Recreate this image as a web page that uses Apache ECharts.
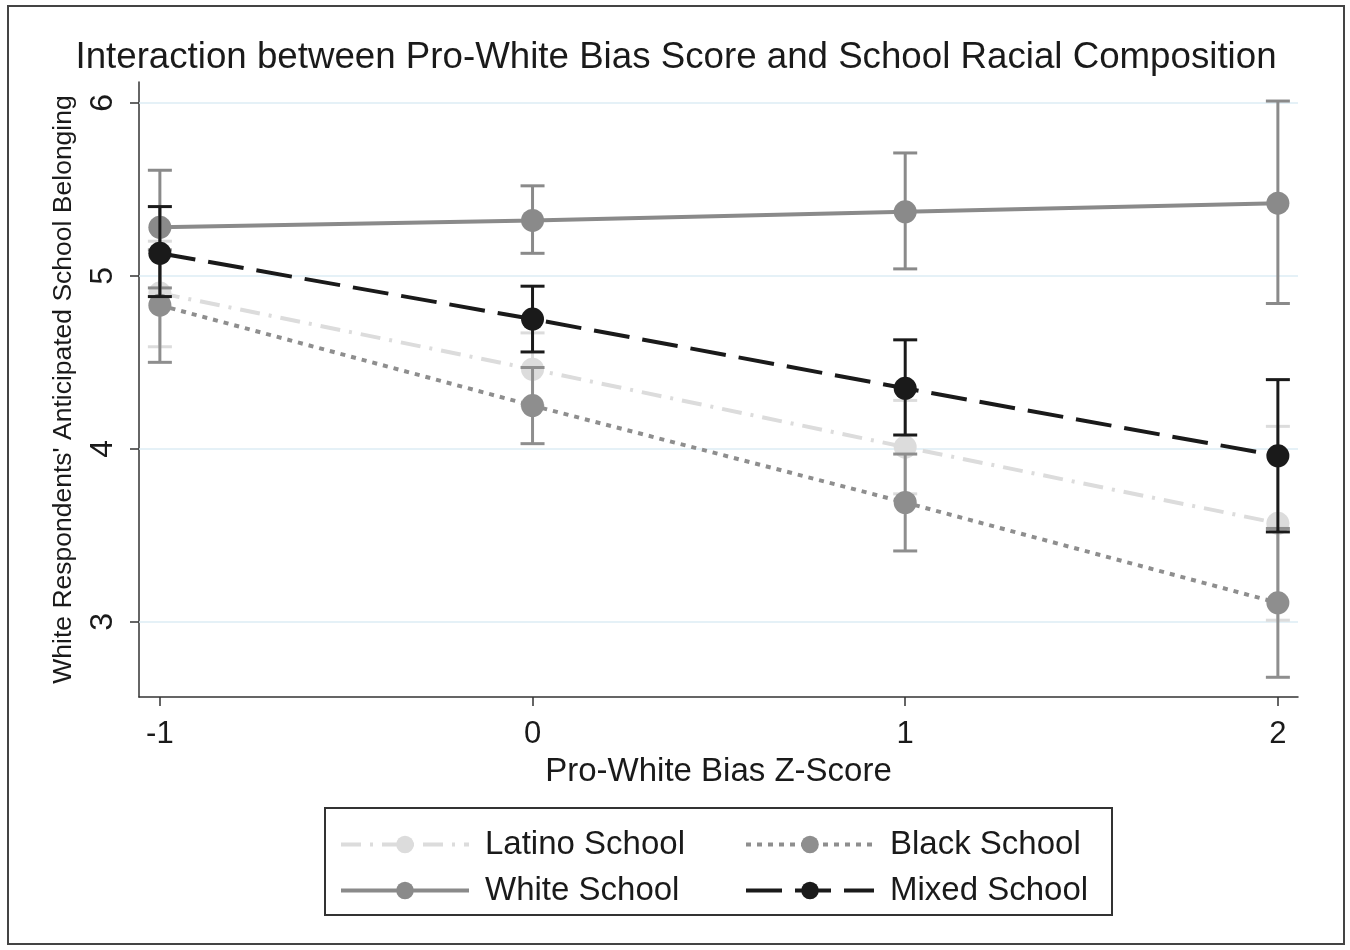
<!DOCTYPE html>
<html>
<head>
<meta charset="utf-8">
<script src="https://cdn.jsdelivr.net/npm/echarts@6/dist/echarts.min.js"></script>
<style>html,body{margin:0;padding:0;background:#fff;}#c{width:1350px;height:950px;}</style>
</head>
<body>
<div id="c"></div>
<script>
const xValues = [-1, 0, 1, 2];
const xTicks = [-1, 0, 1, 2];
const yTicks = [3, 4, 5, 6];

const latinoMean = [4.90, 4.46, 4.01, 3.57];
const latinoLow  = [4.59, 4.25, 3.74, 3.01];
const latinoHigh = [5.20, 4.67, 4.28, 4.13];

const blackMean = [4.83, 4.25, 3.69, 3.11];
const blackLow  = [4.50, 4.03, 3.41, 2.68];
const blackHigh = [5.15, 4.47, 3.97, 3.54];

const whiteMean = [5.28, 5.32, 5.37, 5.42];
const whiteLow  = [4.93, 5.13, 5.04, 4.84];
const whiteHigh = [5.61, 5.52, 5.71, 6.01];

const mixedMean = [5.13, 4.75, 4.35, 3.96];
const mixedLow  = [4.88, 4.56, 4.08, 3.52];
const mixedHigh = [5.40, 4.94, 4.63, 4.40];

const FONT = 'Liberation Sans, Arial, Helvetica, sans-serif';

const groups = [
  {name:'Latino School', mean:latinoMean, low:latinoLow, high:latinoHigh, color:'#dcdcdc', dash:[20,9,3,9]},
  {name:'Black School', mean:blackMean, low:blackLow, high:blackHigh, color:'#8e8e8e', dash:[5,6]},
  {name:'White School', mean:whiteMean, low:whiteLow, high:whiteHigh, color:'#8a8a8a', dash:'solid'},
  {name:'Mixed School', mean:mixedMean, low:mixedLow, high:mixedHigh, color:'#1a1a1a', dash:[36,13]}
];

const series = [];
groups.forEach((g, gi) => {
  series.push({
    type: 'custom',
    name: g.name + ' CI',
    z: 2 + gi * 2,
    silent: true,
    data: xValues.map((x, i) => [x, g.low[i], g.high[i]]),
    renderItem: function (params, api) {
      const x = api.value(0);
      const lo = api.coord([x, api.value(1)]);
      const hi = api.coord([x, api.value(2)]);
      const hw = 12;
      const st = {stroke: g.color, lineWidth: 3};
      return {
        type: 'group',
        children: [
          {type:'line', shape:{x1:lo[0], y1:lo[1], x2:hi[0], y2:hi[1]}, style:st},
          {type:'line', shape:{x1:lo[0]-hw, y1:lo[1], x2:lo[0]+hw, y2:lo[1]}, style:st},
          {type:'line', shape:{x1:hi[0]-hw, y1:hi[1], x2:hi[0]+hw, y2:hi[1]}, style:st}
        ]
      };
    }
  });
  const s = {
    type: 'line',
    name: g.name,
    z: 3 + gi * 2,
    data: xValues.map((x, i) => [x, g.mean[i]]),
    symbol: 'circle',
    symbolSize: 23,
    showSymbol: true,
    lineStyle: {color: g.color, width: 4, type: g.dash},
    itemStyle: {color: g.color},
    emphasis: {disabled: true}
  };
  if (gi === 0) {
    s.markLine = {
      silent: true,
      symbol: 'none',
      z: 1,
      label: {show: false},
      lineStyle: {color: '#dcedf4', width: 1.5, type: 'solid'},
      data: yTicks.map(v => ({yAxis: v}))
    };
  }
  series.push(s);
});

const chart = echarts.init(document.getElementById('c'));
chart.setOption({
  animation: false,
  backgroundColor: '#fff',
  title: {
    text: 'Interaction between Pro-White Bias Score and School Racial Composition',
    left: 671, textAlign: 'center', top: 34,
    textStyle: {fontFamily: FONT, fontSize: 36.7, fontWeight: 'normal', color: '#1a1a1a'}
  },
  graphic: [
    {type:'rect', shape:{x:8, y:6, width:1336, height:938}, style:{fill:'none', stroke:'#444', lineWidth:2}, z: 0},
    {type:'rect', shape:{x:325, y:808, width:787, height:107}, style:{fill:'none', stroke:'#333', lineWidth:2}, z: 0}
  ],
  grid: {left: 139, right: 52, top: 82, bottom: 253},
  xAxis: {
    type: 'value', min: -1.056, max: 2.054,
    name: 'Pro-White Bias Z-Score', nameLocation: 'middle', nameGap: 58,
    nameTextStyle: {fontFamily: FONT, fontSize: 33, color: '#1a1a1a'},
    axisLine: {show: true, onZero: false, lineStyle: {color: '#333', width: 1.5}},
    axisTick: {show: true, length: 9, lineStyle: {color: '#333', width: 1.5}, customValues: xTicks},
    axisLabel: {fontFamily: FONT, fontSize: 31, color: '#1a1a1a', margin: 22, customValues: xTicks, formatter: v => String(v)},
    splitLine: {show: false}
  },
  yAxis: {
    type: 'value', min: 2.566, max: 6.12,
    name: "White Respondents' Anticipated School Belonging", nameLocation: 'middle', nameGap: 62, nameRotate: 90,
    nameTextStyle: {fontFamily: FONT, fontSize: 26.5, color: '#1a1a1a'},
    axisLine: {show: true, onZero: false, lineStyle: {color: '#333', width: 1.5}},
    axisTick: {show: true, length: 9, lineStyle: {color: '#333', width: 1.5}, customValues: yTicks},
    axisLabel: {fontFamily: FONT, fontSize: 32, color: '#1a1a1a', rotate: 90, margin: 20, customValues: yTicks, formatter: v => String(v)},
    splitLine: {show: false}
  },
  legend: [
    {
      orient: 'vertical', left: 334, top: 823, itemWidth: 128, itemHeight: 22, itemGap: 13,
      data: ['Latino School', 'White School'],
      lineStyle: {width: 4},
      textStyle: {fontFamily: FONT, fontSize: 33, color: '#1a1a1a', padding: [0,0,0,11]},
      selectedMode: false
    },
    {
      orient: 'vertical', left: 739, top: 823, itemWidth: 128, itemHeight: 22, itemGap: 13,
      data: ['Black School', 'Mixed School'],
      lineStyle: {width: 4},
      textStyle: {fontFamily: FONT, fontSize: 33, color: '#1a1a1a', padding: [0,0,0,11]},
      selectedMode: false
    }
  ],
  series: series
});
</script>
</body>
</html>
